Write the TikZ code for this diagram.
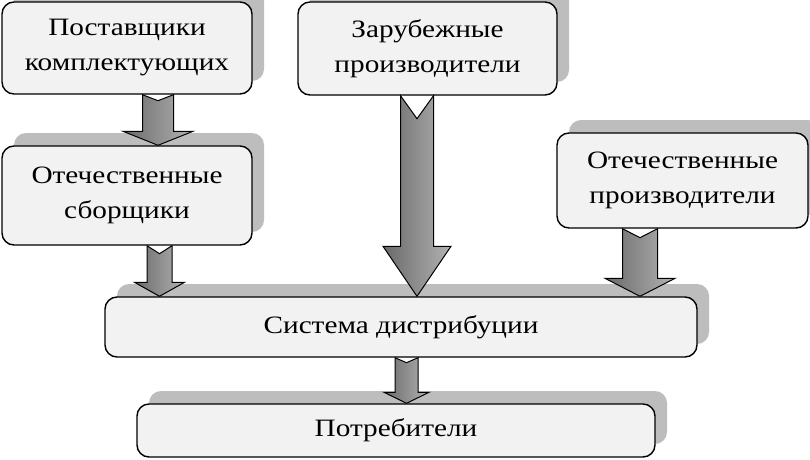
\documentclass[tikz,border=0pt]{standalone}
\usepackage{fontspec}
\setmainfont{Liberation Serif}[FakeStretch=1.17]
\usetikzlibrary{shadows,calc}
\definecolor{boxfill}{HTML}{F2F2F2}
\definecolor{shadowgray}{HTML}{BDBDBD}
\definecolor{arrdark}{HTML}{6A6A6A}
\definecolor{arrlight}{HTML}{B2B2B2}
\tikzset{
  box/.style={draw=black, line width=1.4pt, fill=boxfill, rounded corners=12pt,
    align=center, inner sep=0pt,
    font=\fontsize{25}{35}\selectfont,
    drop shadow={shadow xshift=12pt, shadow yshift=13pt, fill=shadowgray, opacity=1}},
  barrow/.style={draw=black, line width=1pt, line join=miter, left color=arrdark, right color=arrlight}
}
\newcommand\blockarrow[7]{%
  \draw[barrow] let \p1=(#2.south), \p2=(#3.north) in
   (#1pt-#4pt, \y1) -- (#1pt, \y1-#7pt) -- (#1pt+#4pt, \y1) -- (#1pt+#4pt, \y2+#6pt)
   -- (#1pt+#5pt, \y2+#6pt) -- (#1pt, \y2) -- (#1pt-#5pt, \y2+#6pt) -- (#1pt-#4pt, \y2+#6pt) -- cycle;}
\begin{document}
\begin{tikzpicture}[x=1pt,y=1pt]
\useasboundingbox (0,0) rectangle (810,459);
\clip (0,0) rectangle (810,459);
\fill[white] (0,0) rectangle (810,459);
\node[box, minimum width=250pt, minimum height=92pt] (b1) at (127,411) {Поставщики\\комплектующих};
\node[box, minimum width=250pt, minimum height=99pt] (b2) at (127,263.5) {Отечественные\\сборщики};
\node[box, minimum width=259pt, minimum height=93pt] (b3) at (427.5,410.5) {Зарубежные\\производители};
\node[box, minimum width=251pt, minimum height=95pt] (b4) at (682.5,278.5) {Отечественные\\производители};
\node[box, minimum width=592pt, minimum height=60pt] (b5) at (401,132) {Система дистрибуции};
\node[box, minimum width=518pt, minimum height=53pt] (b6) at (396,28.5) {Потребители};
\blockarrow{158}{b1}{b2}{15.5}{35}{14}{6}
\blockarrow{159.5}{b2}{b5}{12.5}{25}{14}{8}
\blockarrow{417}{b3}{b5}{16.5}{34}{50}{23}
\blockarrow{640}{b4}{b5}{17.5}{35}{18}{9}
\blockarrow{406.5}{b5}{b6}{11.5}{22.5}{11}{5}
\end{tikzpicture}
\end{document}
